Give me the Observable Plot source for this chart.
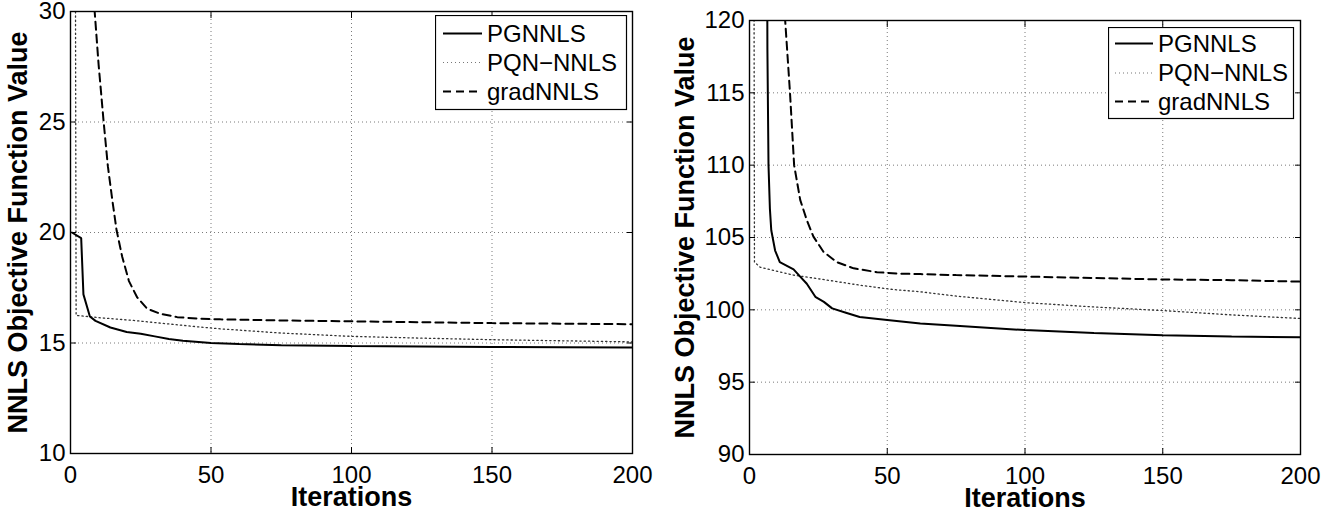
<!DOCTYPE html>
<html>
<head>
<meta charset="utf-8">
<script src="https://cdn.jsdelivr.net/npm/d3@7"></script>
<script src="https://cdn.jsdelivr.net/npm/@observablehq/plot@0.6"></script>
<style>
  body { margin: 0; background: #fff; }
  #wrap { position: relative; width: 1335px; height: 512px; display: flex; overflow: hidden; }
  .panel { position: relative; flex: none; }
  .panel svg { display: block; }
  .panel svg text { font-size: 24px; }
  .panel g[aria-label="x-axis label"] text, .panel g[aria-label="y-axis label"] text { font-weight: bold; font-size: 27px; }
  .legend { position: absolute; }
</style>
</head>
<body>
<div id="wrap">
  <div class="panel" id="left"></div>
  <div class="panel" id="right"></div>
</div>
<script>
// ---------------- data ----------------
const methods = ["PGNNLS", "PQN\u2212NNLS", "gradNNLS"];
const xTicks = [0, 50, 100, 150, 200];
const xGrid = [50, 100, 150];
const yTicksLeft = [10, 15, 20, 25, 30];
const yGridLeft = [15, 20, 25];
const yTicksRight = [90, 95, 100, 105, 110, 115, 120];
const yGridRight = [95, 100, 105, 110, 115];

// left panel
const itersPGLeft = [0.5, 3.8, 4.6, 6.9, 8.9, 14.2, 20, 25, 30, 35, 40, 50, 60, 75, 100, 125, 150, 175, 200];
const valsPGLeft  = [20.0, 19.75, 17.2, 16.2, 16.0, 15.7, 15.5, 15.42, 15.3, 15.18, 15.1, 15.0, 14.95, 14.9, 14.86, 14.84, 14.82, 14.81, 14.8];
const itersPQNLeft = [1, 2, 10.7, 22.5, 34.3, 46.3, 53.4, 75, 100, 125, 150, 175, 200];
const valsPQNLeft  = [80, 16.25, 16.14, 16.02, 15.87, 15.72, 15.64, 15.45, 15.3, 15.22, 15.15, 15.1, 15.05];
const itersGradLeft = [6, 7, 8.6, 10, 11.8, 13.3, 14.9, 16.4, 18.4, 20.8, 23.7, 27.3, 32, 38, 46.3, 53.4, 75, 100, 150, 200];
const valsGradLeft  = [36, 33, 30, 27.6, 25, 23, 21.45, 20.1, 18.9, 17.8, 17.07, 16.55, 16.32, 16.17, 16.1, 16.07, 16.02, 15.98, 15.9, 15.85];

// right panel
const itersPGRight = [6, 6.5, 6.9, 7.4, 7.9, 9.3, 11, 16, 18.4, 20.8, 23.9, 27, 30, 35, 40, 50, 62, 75, 100, 125, 150, 175, 200];
const valsPGRight  = [150, 118, 110, 107, 105.5, 104.1, 103.3, 102.8, 102.3, 101.8, 100.9, 100.55, 100.1, 99.8, 99.5, 99.3, 99.06, 98.9, 98.6, 98.4, 98.25, 98.15, 98.1];
const itersPQNRight = [1, 1.8, 3.9, 16, 28.1, 40.2, 52.3, 62, 75, 100, 125, 150, 175, 200];
const valsPQNRight  = [200, 103.3, 102.94, 102.4, 102.06, 101.7, 101.4, 101.25, 100.95, 100.5, 100.2, 99.95, 99.65, 99.4];
const itersGradRight = [11.5, 12.95, 14.7, 16.2, 18.4, 20.8, 23.2, 26.9, 31.7, 37.8, 46.3, 54.7, 62, 75, 100, 125, 150, 175, 200];
const valsGradRight  = [132, 120, 115, 110, 107.6, 106.2, 105.06, 104.0, 103.3, 102.87, 102.6, 102.5, 102.47, 102.4, 102.3, 102.2, 102.1, 102.05, 101.95];

// ---------------- drawing ----------------
const FONT = "'Liberation Sans', Arial, Helvetica, sans-serif";
const rows = (xs, ys) => xs.map((x, i) => ({x, y: ys[i]}));
const styles = {
  [methods[0]]: {stroke: "#000", strokeWidth: 2},
  [methods[1]]: {stroke: "#333", strokeWidth: 1.3, strokeDasharray: "1.3,3"},
  [methods[2]]: {stroke: "#000", strokeWidth: 2, strokeDasharray: "8,5"}
};

function panel({width, height, margins, yDomain, yTicks, yGrid, series, yLabelOffset, xLabelOffset}) {
  const [mt, mr, mb, ml] = margins;
  const gridStyle = {stroke: "#7a7a7a", strokeOpacity: 1, strokeWidth: 1, strokeDasharray: "1,3"};
  return Plot.plot({
    width, height,
    marginTop: mt, marginRight: mr, marginBottom: mb, marginLeft: ml,
    style: {fontFamily: FONT, fontSize: "24px", background: "#fff", color: "#000", overflow: "visible"},
    x: {domain: [0, 200]},
    y: {domain: yDomain},
    marks: [
      Plot.gridX(xGrid, gridStyle),
      Plot.gridY(yGrid, gridStyle),
      ...series.map(([name, data]) => Plot.line(data, {x: "x", y: "y", clip: true, strokeLinejoin: "miter", ...styles[name]})),
      Plot.frame({stroke: "#000", strokeWidth: 1.4}),
      Plot.axisX(xTicks, {anchor: "bottom", tickSize: 0, tickPadding: 12, fontSize: 24, label: "Iterations", labelAnchor: "center", labelOffset: xLabelOffset, labelArrow: "none"}),
      Plot.axisX(xTicks, {anchor: "bottom", tickSize: -6, tickFormat: () => "", label: null}),
      Plot.axisX(xTicks, {anchor: "top", tickSize: -6, tickFormat: () => "", label: null}),
      Plot.axisY(yTicks, {anchor: "left", tickSize: 0, tickPadding: 5, fontSize: 24, label: "NNLS Objective Function Value", labelAnchor: "center", labelOffset: yLabelOffset, labelArrow: "none"}),
      Plot.axisY(yTicks, {anchor: "left", tickSize: -6, tickFormat: () => "", label: null}),
      Plot.axisY(yTicks, {anchor: "right", tickSize: -6, tickFormat: () => "", label: null})
    ]
  });
}

function legend(container, {left, top, width, rowYs, lineX0, lineX1, textX, height}) {
  const svg = d3.select(container).append("svg")
    .attr("class", "legend")
    .attr("width", width + 2).attr("height", height + 2)
    .style("left", left + "px").style("top", top + "px")
    .style("position", "absolute");
  svg.append("rect").attr("x", 0.5).attr("y", 0.5).attr("width", width).attr("height", height)
    .attr("fill", "#fff").attr("stroke", "#000").attr("stroke-width", 1.2);
  methods.forEach((m, i) => {
    const st = styles[m];
    svg.append("line").attr("x1", lineX0).attr("x2", lineX1).attr("y1", rowYs[i]).attr("y2", rowYs[i])
      .attr("stroke", i === 1 ? "#777" : st.stroke).attr("stroke-width", i === 1 ? 1.2 : 1.8)
      .attr("stroke-dasharray", i === 1 ? "1,3" : (st.strokeDasharray || null));
    svg.append("text").attr("x", textX).attr("y", rowYs[i]).attr("dy", "0.35em")
      .attr("font-family", FONT).attr("font-size", 24).attr("fill", "#000").text(m);
  });
}

const leftFig = panel({
  width: 660, height: 512, margins: [11, 28, 59, 70],
  yDomain: [10, 30], yTicks: yTicksLeft, yGrid: yGridLeft,
  series: [[methods[1], rows(itersPQNLeft, valsPQNLeft)], [methods[2], rows(itersGradLeft, valsGradLeft)], [methods[0], rows(itersPGLeft, valsPGLeft)]],
  yLabelOffset: 63, xLabelOffset: 52
});
document.getElementById("left").appendChild(leftFig);

const rightFig = panel({
  width: 675, height: 512, margins: [20, 35, 58, 89],
  yDomain: [90, 120], yTicks: yTicksRight, yGrid: yGridRight,
  series: [[methods[1], rows(itersPQNRight, valsPQNRight)], [methods[2], rows(itersGradRight, valsGradRight)], [methods[0], rows(itersPGRight, valsPGRight)]],
  yLabelOffset: 75, xLabelOffset: 52
});
document.getElementById("right").appendChild(rightFig);

legend(document.getElementById("left"), {left: 435, top: 15, width: 191, height: 94, rowYs: [18.5, 47.5, 76.5], lineX0: 8, lineX1: 47, textX: 52});
legend(document.getElementById("right"), {left: 448, top: 27, width: 185, height: 91, rowYs: [16.5, 46, 74.5], lineX0: 7, lineX1: 45, textX: 50});
</script>
</body>
</html>
